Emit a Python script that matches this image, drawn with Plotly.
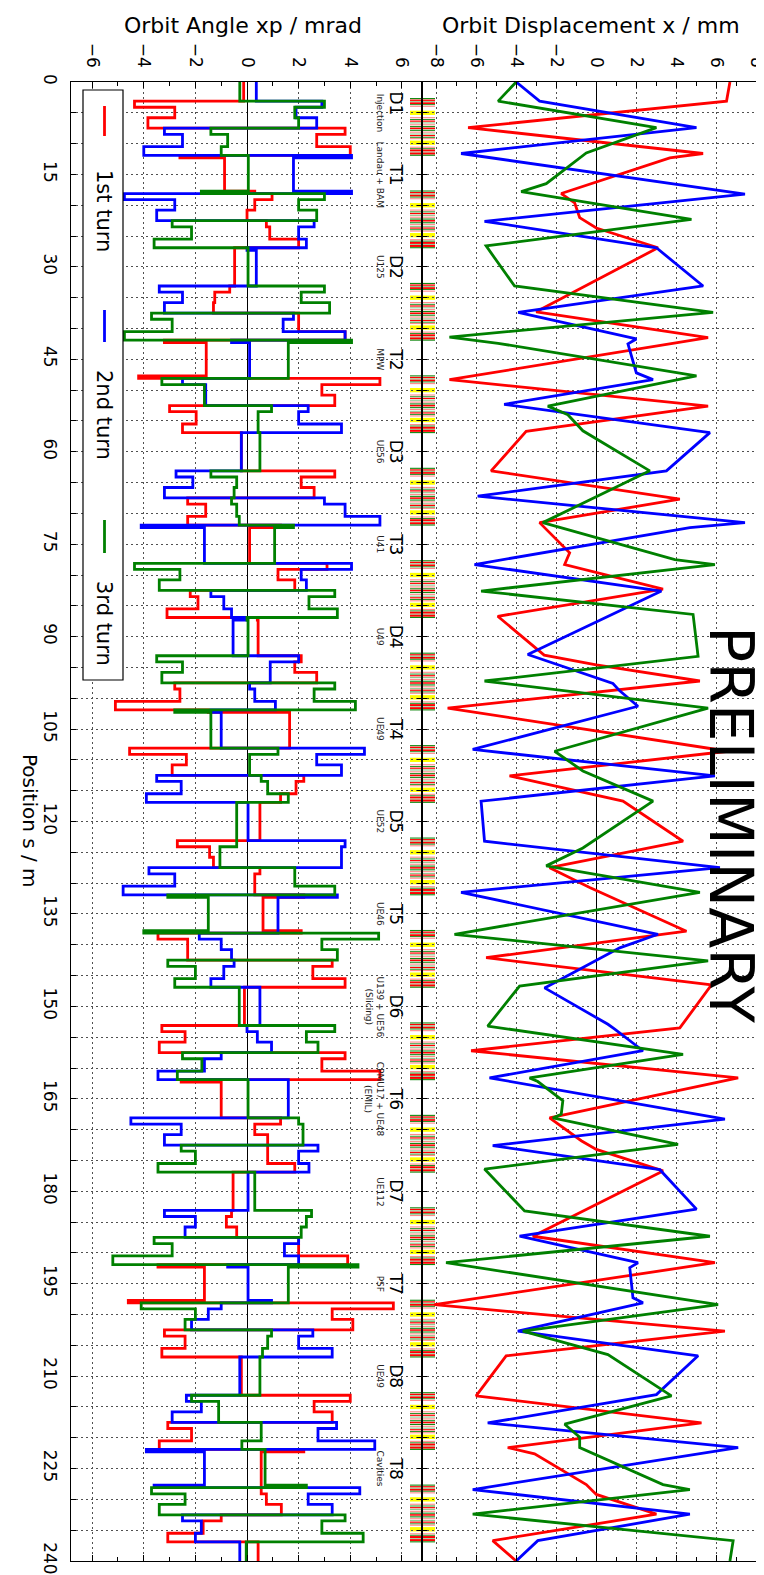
import plotly.graph_objects as go

# ---------------- data ----------------
S_TICKS = [0, 15, 30, 45, 60, 75, 90, 105, 120, 135, 150, 165, 180, 195, 210, 225, 240]
XP_TICKS = [-6, -4, -2, 0, 2, 4, 6]
X_TICKS = [-8, -6, -4, -2, 0, 2, 4, 6, 8]

# displacement x / mm (vertices along s / m)
RED_S = [0, 3.1, 7.4, 11.6, 12.3, 18.1, 19.6, 22.0, 23.7, 26.9, 37.3, 41.5, 48.3, 52.6, 56.7,
         63.1, 67.7, 71.5, 76.4, 78.3, 82.3, 86.7, 93.0, 94.6, 97.2, 101.6, 108.6, 112.6, 116.7,
         123.2, 127.5, 130.7, 137.8, 142.1, 146.5, 153.5, 157.2, 161.6, 168.1, 171.8, 173.2,
         176.7, 187.3, 191.6, 198.4, 202.7, 206.7, 213.2, 217.6, 221.6, 222.6, 227.6, 229.2,
         232.4, 236.7, 240]
RED_X = [6.67, 6.5, -6.4, 5.33, 3.67, -1.75, -1.08, -0.83, 0.0, 3.08, -3.0, 5.58, -7.33, 5.58,
         -3.5, -5.25, 4.17, -2.83, -1.33, -1.58, 3.33, -4.92, -2.6, 0.0, 5.17, -7.42, 6.58,
         -4.33, 1.33, 4.33, -2.33, -0.33, 4.5, -5.5, 5.75, 4.17, -6.25, 7.08, -2.33, -0.75,
         0.0, 3.33, -3.17, 5.92, -8.08, 6.42, -4.5, -6.0, 5.25, -4.42, -3.08, -0.5, 0.0, 3.0,
         -5.17, -4.0]
BLUE_S = [0, 3.1, 7.4, 11.6, 18.2, 22.6, 26.9, 33.1, 37.4, 41.7, 42.5, 47.2, 48.3, 52.3, 56.9,
          63.1, 67.2, 71.5, 72.3, 78.3, 82.6, 92.9, 97.6, 98.8, 101.3, 108.3, 112.6, 116.7,
          123.2, 127.5, 131.5, 138.3, 140.5, 147.0, 152.9, 153.7, 157.2, 161.6, 168.3, 172.6,
          176.5, 182.9, 187.3, 191.6, 192.4, 197.3, 198.1, 202.7, 206.7, 213.0, 217.6, 221.6,
          228.4, 232.4, 236.7, 240]
BLUE_X = [-4.0, -2.83, 5.0, -6.75, 7.42, -5.58, 3.0, 5.33, -3.9, 2.0, 1.58, 2.0, 2.83, -4.6,
          5.67, 3.5, -5.92, 7.42, 4.67, -6.08, 3.25, -3.42, 0.83, 1.17, 2.08, -6.17, 5.92,
          -5.75, -5.58, 6.17, -6.75, 3.08, 1.17, -2.58, 0.58, 0.92, 2.33, -5.33, 6.42, -5.17,
          3.17, 5.0, -3.83, 2.08, 1.67, 1.83, 2.33, -3.92, 5.08, 3.0, -5.42, 7.08, -6.17, 4.67,
          -2.92, -4.0]
GREEN_S = [0, 3.1, 7.4, 11.5, 16.5, 17.8, 22.3, 26.6, 33.1, 37.4, 41.4, 42.4, 47.7, 52.6, 54.0,
           56.6, 63.1, 71.5, 77.5, 78.3, 82.6, 86.4, 93.2, 97.2, 101.6, 108.6, 111.8, 116.7,
           124.3, 127.2, 131.5, 138.3, 142.6, 146.7, 153.2, 157.8, 161.6, 162.2, 165.3, 167.5,
           168.1, 172.4, 176.4, 183.2, 187.3, 191.6, 198.4, 202.7, 206.5, 213.2, 217.8, 219.9,
           221.6, 227.6, 228.4, 232.4, 236.7, 240]
GREEN_X = [-4.0, -4.9, 3.0, -0.5, -2.5, -3.75, 4.75, -5.5, -4.08, 5.83, -7.33, -4.9, 5.0, -2.42,
           -1.42, -0.67, 2.67, -2.67, 3.92, 5.92, -5.75, 4.83, 5.08, -5.58, 5.58, -2.08, -0.67,
           2.83, -0.67, -2.5, 5.17, -7.08, 5.58, -3.83, -5.42, 4.33, -3.33, -2.92, -1.67,
           -1.75, -2.17, 4.08, -5.58, -3.58, 5.67, -7.5, 6.08, -3.67, 0.58, 3.75, -1.58, -0.83,
           -0.83, 3.33, 4.67, -6.17, 6.83, 6.67]

# angle xp / mrad: step values per lattice cell (edges relative to cell centre)
CELL_CENTERS = [7.5, 22.5, 37.5, 52.5, 67.5, 82.5, 97.5, 112.5, 127.5, 142.5, 157.5, 172.5,
                187.5, 202.5, 217.5, 232.5]
EDGE_OFFSETS = [-4.8, -4.4, -3.4, -1.7, 0.0, 1.0, 3.0, 4.4, 4.8]
XP_START = {"red": -0.13, "blue": 0.36, "green": -0.28}
XP_RED = [
    [-0.13, -4.36, -2.8, -3.84, 3.8, 2.7, 4.0, -2.6, -0.87],
    [0.3, 0.97, 0.3, 0.0, 0.75, 0.88, 2.0, -0.48, -0.48],
    [-0.48, -0.67, -1.25, -1.3, 2.0, 2.0, 3.8, -3.2, -1.58],
    [-4.2, 5.15, 2.9, 3.4, -3.0, -1.97, -2.5, -0.22, -0.22],
    [-0.22, 3.4, 2.1, 2.6, -2.3, -1.6, -2.3, 1.3, 0.1],
    [0.1, 3.1, 1.2, 1.85, -2.2, -1.9, -3.1, 0.4, 0.43],
    [0.43, 2.1, 1.85, 2.7, -2.8, -2.6, -5.1, -1.5, 1.65],
    [1.65, -4.55, -2.35, -2.9, 2.2, 1.9, 1.3, 0.5, 0.5],
    [0.5, -2.7, -1.45, -1.3, 0.5, 0.3, 0.3, 2.2, 0.62],
    [2.1, -3.45, -2.3, -2.3, 3.3, 2.55, 3.8, -0.1, -0.1],
    [-0.1, -3.3, -2.4, -3.4, 3.8, 2.9, 5.15, -2.55, -1.0],
    [-1.0, 1.3, 0.3, 0.8, 0.8, 0.8, 1.85, -0.54, -0.54],
    [-0.54, -0.6, -0.8, -0.4, 2.0, 2.0, 3.9, -3.45, -1.65],
    [-4.6, 5.67, 3.3, 4.1, -3.2, -2.4, -3.3, -0.22, -0.22],
    [-0.22, 4.0, 2.6, 3.3, -3.07, -2.15, -3.4, 2.2, 0.55],
    [0.55, 0.55, 0.75, 1.33, -1.0, -1.7, -3.07, 0.43, 0.43],
]
XP_BLUE = [
    [0.36, 2.9, 1.9, 2.7, -3.2, -2.5, -4.0, 4.05, 1.8],
    [4.05, -4.75, -2.8, -3.5, 2.6, 2.0, 2.3, 0.0, 0.36],
    [0.36, -3.4, -2.5, -3.2, 1.8, 1.4, 3.8, -0.6, 0.1],
    [0.1, -2.5, -1.6, -1.6, 2.37, 2.0, 3.66, -0.22, -0.22],
    [-0.22, -2.75, -2.1, -3.2, 3.0, 3.8, 5.15, -4.1, -1.65],
    [-1.65, 4.05, 2.1, 2.3, -1.4, -0.9, -0.6, 0.0, -0.54],
    [-0.54, 2.0, 0.9, 0.9, 0.1, 0.3, 1.1, -1.4, -1.0],
    [-1.0, 4.55, 2.7, 3.66, -3.5, -2.55, -3.9, 0.04, 0.04],
    [0.04, 3.8, 3.66, 3.66, -3.8, -2.8, -4.8, 3.5, 1.2],
    [1.2, -1.85, -1.0, -0.6, -0.5, -0.9, -1.4, 0.5, 0.5],
    [0.5, 0.0, 0.4, 0.95, -1.0, -1.65, -3.45, 1.6, 1.6],
    [1.6, -4.5, -2.55, -3.2, 2.75, 2.0, 2.4, 0.04, 0.04],
    [0.04, -3.2, -2.0, -2.4, 2.0, 1.45, 2.0, -0.75, 0.04],
    [0.95, -1.0, -1.5, -2.15, 2.55, 2.0, 3.3, -0.28, -0.28],
    [-0.28, -2.35, -1.77, -2.9, 3.47, 2.75, 4.95, -3.9, -1.65],
    [-3.6, 4.37, 2.37, 3.3, -2.5, -1.77, -2.0, -0.28, -0.28],
]
XP_GREEN = [
    [-0.28, 3.0, 1.85, 2.0, -1.4, -0.75, -1.0, 0.05, 0.05],
    [-1.77, 3.0, 2.0, 2.7, -2.9, -2.15, -3.6, 0.04, 0.04],
    [0.04, 3.0, 2.1, 3.2, -3.7, -2.9, -4.75, 4.05, 1.6],
    [1.6, -3.3, -1.65, -1.65, 0.95, 0.43, 0.43, 0.5, 0.5],
    [0.5, -1.4, -0.4, -0.5, -0.6, -0.4, -0.3, 1.8, 1.07],
    [1.07, -4.36, -2.6, -3.4, 3.4, 2.4, 3.5, 0.0, 0.04],
    [0.04, -3.5, -2.5, -3.3, 3.4, 2.6, 4.2, -2.8, -1.4],
    [-1.4, 1.2, 0.1, 0.1, 0.55, 0.8, 1.6, -0.4, -0.4],
    [-0.4, -0.4, -1.05, -1.05, 1.85, 1.85, 3.4, -3.07, -1.5],
    [-4.0, 5.1, 2.9, 3.5, -3.07, -2.0, -2.8, -0.3, -0.3],
    [-0.3, 3.4, 2.3, 2.75, -2.5, -1.75, -2.7, 0.04, 0.04],
    [0.04, 2.0, 2.17, 2.17, -2.55, -2.0, -3.45, 0.3, 0.3],
    [0.3, 2.5, 2.3, 2.1, -3.6, -2.9, -5.2, 4.3, 1.6],
    [1.6, -4.1, -2.0, -2.4, 0.95, 0.8, 0.6, 0.5, 0.5],
    [0.5, -2.15, -1.1, -1.1, 0.55, 0.55, -0.2, 0.7, 0.7],
    [2.3, -3.7, -2.4, -3.4, 3.8, 2.9, 4.5, -0.03, -0.03],
]

# lattice elements (offset from cell centre / m, length / m, kind)
LAT_OFFSET = [-4.9, -4.65, -4.4, -4.2, -3.9, -3.65, -2.85, -1.8, -1.5, -1.25, -0.95, -0.65,
              -0.35, -0.1, 0.25, 0.55, 0.85, 1.1, 1.4, 1.6, 2.0, 3.0, 3.25, 3.45, 3.8, 3.95, 4.3]
LAT_LENGTH = [0.18, 0.22, 0.18, 0.28, 0.15, 0.18, 0.7, 0.18, 0.15, 0.2, 0.18, 0.18,
              0.18, 0.25, 0.18, 0.18, 0.18, 0.2, 0.15, 0.18, 0.7, 0.18, 0.15, 0.32, 0.15, 0.32, 0.18]
LAT_KIND = ["S", "Q", "s", "Q", "S", "q", "B", "q", "S", "Q", "s", "q",
            "S", "Q", "S", "q", "s", "Q", "S", "q", "B", "q", "S", "Q", "s", "Q", "S"]
LAT_COLOR = {"Q": "#ff0000", "q": "#ff8a8a", "S": "#138a13", "s": "#8fc98f", "B": "#ffff00"}

SECTION_S = [1.2, 15, 30, 45, 60, 75, 90, 105, 120, 135, 150, 165, 180, 195, 210, 225]
SECTION_NAME = ["D1", "T1", "D2", "T2", "D3", "T3", "D4", "T4", "D5", "T5", "D6", "T6",
                "D7", "T7", "D8", "T8"]
SECTION_SUB = ["Injection", "Landau + BAM", "U125", "MPW", "UE56", "U41", "U49", "UE49", "UE52",
               "UE46", "U139 + UE56<br>(Slicing)", "CPMU17 + UE48<br>(EMIL)", "UE112", "PSF",
               "UE49", "Cavities"]

TURNS = ["1st turn", "2nd turn", "3rd turn"]
COLORS = ["#ff0000", "#0000ff", "#008000"]

# ---------------- layout geometry ----------------
W, H = 764, 1575
ML, MR, MT, MB = 63, 2, 74, 22
PW, PH = W - ML - MR, H - MT - MB
FONT = "DejaVu Sans"


def px_x(px):
    return (px - ML) / PW


def px_y(py):
    return (H - MB - py) / PH


SPLIT = px_x(414)

fig = go.Figure()

# angle traces
for key, color, table in [("red", COLORS[0], XP_RED), ("blue", COLORS[1], XP_BLUE),
                          ("green", COLORS[2], XP_GREEN)]:
    s_pts = [0.0]
    v_pts = [XP_START[key]]
    for c, cell in zip(CELL_CENTERS, table):
        for off, v in zip(EDGE_OFFSETS, cell):
            s_pts.append(c + off)
            v_pts.append(v)
    s_pts.append(240.0)
    v_pts.append(v_pts[-1])
    fig.add_trace(go.Scatter(x=v_pts, y=s_pts, mode="lines", xaxis="x", yaxis="y",
                             line=dict(color=color, width=2.8, shape="vh"),
                             showlegend=False, hoverinfo="skip"))

# displacement traces
for color, ss, xx in [(COLORS[0], RED_S, RED_X), (COLORS[1], BLUE_S, BLUE_X),
                      (COLORS[2], GREEN_S, GREEN_X)]:
    fig.add_trace(go.Scatter(x=xx, y=ss, mode="lines", xaxis="x2", yaxis="y2",
                             line=dict(color=color, width=2.8),
                             showlegend=False, hoverinfo="skip"))

GRID = dict(showgrid=True, gridcolor="#505050", gridwidth=0.8, griddash="2px,3px")
tickfont = dict(family=FONT, size=17, color="black")


def minus(v):
    return str(v).replace("-", "\u2212")


common_x = dict(side="top", tickmode="array", tickangle=90, ticks="inside", ticklen=6,
                tickwidth=1, tickcolor="black", showline=True, linecolor="black",
                linewidth=1.3, mirror="ticks", zeroline=True, zerolinecolor="black",
                zerolinewidth=1.3, tickfont=tickfont, ticklabelstandoff=7,
                minor=dict(tickmode="linear", tick0=0, dtick=1, ticks="inside", ticklen=4,
                           tickcolor="black", showgrid=False),
                **GRID)
common_y = dict(range=[240, 0], tickmode="array", tickvals=S_TICKS, ticks="inside", ticklen=5,
                tickwidth=1, tickcolor="black", showline=True, linecolor="black",
                linewidth=1.3, mirror="ticks", zeroline=False,
                minor=dict(tickmode="linear", tick0=0, dtick=5, ticks="inside", ticklen=5,
                           tickcolor="black", showgrid=True, gridcolor="#505050",
                           gridwidth=0.8, griddash="2px,3px"),
                **GRID)

fig.update_layout(
    width=W, height=H, margin=dict(l=ML, r=MR, t=MT, b=MB, pad=0),
    paper_bgcolor="white", plot_bgcolor="white",
    xaxis=dict(domain=[0, SPLIT], range=[-6.82, 6.78], anchor="y", tickvals=XP_TICKS,
               ticktext=[minus(v) for v in XP_TICKS], **common_x),
    xaxis2=dict(domain=[SPLIT, 1], range=[-8.70, 8.67], anchor="y2", tickvals=X_TICKS,
                ticktext=[minus(v) for v in X_TICKS], **common_x),
    yaxis=dict(domain=[0, 1], anchor="x", ticktext=[str(v) for v in S_TICKS], tickangle=90,
               tickfont=tickfont, ticklabelstandoff=5, **common_y),
    yaxis2=dict(domain=[0, 1], anchor="x2", matches="y", showticklabels=False, **common_y),
)

shapes = []
# lattice bars
for c in CELL_CENTERS:
    for off, ln, kind in zip(LAT_OFFSET, LAT_LENGTH, LAT_KIND):
        shapes.append(dict(type="rect", xref="paper", yref="y", x0=px_x(402), x1=px_x(427),
                           y0=c + off, y1=c + off + ln, fillcolor=LAT_COLOR[kind],
                           line=dict(width=0), layer="between"))

# legend box
shapes.append(dict(type="rect", xref="paper", yref="paper", x0=px_x(75), x1=px_x(115),
                   y0=px_y(672), y1=px_y(82), fillcolor="white",
                   line=dict(color="black", width=1.2), layer="above"))
LEG_LINE = [(98, 128), (302, 334), (512, 545)]
LEG_TEXT_Y = [203, 407, 615]
annotations = []
for (a, b), ty, color, label in zip(LEG_LINE, LEG_TEXT_Y, COLORS, TURNS):
    shapes.append(dict(type="line", xref="paper", yref="paper", x0=px_x(96.5), x1=px_x(96.5),
                       y0=px_y(a), y1=px_y(b), line=dict(color=color, width=2.8),
                       layer="above"))
    annotations.append(dict(text=label, xref="paper", yref="paper", x=px_x(96),
                            y=px_y(ty), textangle=90, showarrow=False,
                            xanchor="center", yanchor="middle",
                            font=dict(family=FONT, size=21, color="black")))

# titles
annotations.append(dict(text="Orbit Angle xp / mrad", xref="paper", yref="paper",
                        x=px_x(235), y=px_y(18), showarrow=False, xanchor="center",
                        yanchor="middle", font=dict(family=FONT, size=22, color="black")))
annotations.append(dict(text="Orbit Displacement x / mm", xref="paper", yref="paper",
                        x=px_x(583), y=px_y(18), showarrow=False, xanchor="center",
                        yanchor="middle", font=dict(family=FONT, size=22, color="black")))
annotations.append(dict(text="Position s / m", xref="paper", yref="paper", x=px_x(22),
                        y=px_y(813), textangle=90, showarrow=False, xanchor="center",
                        yanchor="middle", font=dict(family=FONT, size=20, color="black")))
annotations.append(dict(text="PRELIMINARY", xref="paper", yref="paper", x=px_x(723),
                        y=px_y(816), textangle=90, showarrow=False, xanchor="center",
                        yanchor="middle", font=dict(family=FONT, size=60, color="black")))

# section labels
for i, (s, name, sub) in enumerate(zip(SECTION_S, SECTION_NAME, SECTION_SUB)):
    ya = "top" if i == 0 else "middle"
    annotations.append(dict(text=name, xref="paper", yref="y", x=px_x(388), y=s,
                            textangle=90, showarrow=False, xanchor="center", yanchor=ya,
                            font=dict(family=FONT, size=17, color="black")))
    annotations.append(dict(text=sub, xref="paper", yref="y", x=px_x(379),
                            y=(s + 0.3 if i == 0 else s), textangle=90, showarrow=False,
                            xanchor="right", yanchor=ya,
                            font=dict(family=FONT, size=9, color="#222222")))

fig.update_layout(shapes=shapes, annotations=annotations)
fig.write_html("out.html")
